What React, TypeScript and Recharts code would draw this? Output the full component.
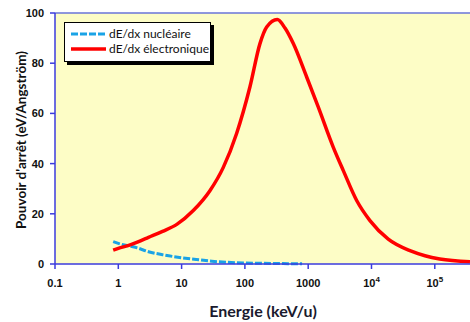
import React from "react";
import { LineChart, Line, XAxis, YAxis, CartesianGrid, ReferenceLine } from "recharts";

// energy (keV/u) -> stopping power (eV/Angstrom)
const electronique = [
  { e: 0.83, v: 5.5 }, { e: 1, v: 6.2 }, { e: 1.5, v: 7.5 }, { e: 2, v: 8.7 },
  { e: 3, v: 10.6 }, { e: 5, v: 13 }, { e: 8.4, v: 15.8 }, { e: 15.3, v: 21.3 },
  { e: 28, v: 29.2 }, { e: 45.6, v: 38.5 }, { e: 74, v: 52 }, { e: 120, v: 70.5 },
  { e: 173, v: 87.8 }, { e: 221, v: 94.4 }, { e: 325, v: 97.4 }, { e: 430, v: 94 },
  { e: 582, v: 87.8 }, { e: 946, v: 74.5 }, { e: 1445, v: 62.5 }, { e: 2494, v: 46.5 },
  { e: 3589, v: 37.2 }, { e: 5834, v: 25.3 }, { e: 9460, v: 17.3 }, { e: 18400, v: 9.9 },
  { e: 40500, v: 5.3 }, { e: 70000, v: 3.3 }, { e: 120000, v: 2.0 }, { e: 360000, v: 0.9 },
];

const nucleaire = [
  { e: 0.83, v: 8.9 }, { e: 1, v: 8.2 }, { e: 2, v: 6.4 }, { e: 3, v: 4.9 },
  { e: 5, v: 3.7 }, { e: 10, v: 2.5 }, { e: 20, v: 1.6 }, { e: 30, v: 1.1 },
  { e: 50, v: 0.7 }, { e: 100, v: 0.4 }, { e: 200, v: 0.25 }, { e: 400, v: 0.15 },
  { e: 800, v: 0.1 },
];

const xTicks = [0.1, 1, 10, 100, 1000, 10000, 100000];
const yTicks = [0, 20, 40, 60, 80, 100];

const AXIS = "#3b3bdc";
const tickFont = { fontFamily: "'Liberation Sans', Arial, sans-serif", fontWeight: 700, fontSize: 11, fill: "#111" };

const XTick = ({ x, y, payload }: any) => {
  const v = payload.value;
  if (v >= 10000) {
    const exp = Math.round(Math.log10(v));
    return (
      <text x={x} y={y + 16} textAnchor="middle" {...tickFont}>
        10<tspan dy={-5} fontSize={8}>{exp}</tspan>
      </text>
    );
  }
  return (
    <text x={x} y={y + 16} textAnchor="middle" {...tickFont}>
      {v}
    </text>
  );
};

const YTick = ({ x, y, payload }: any) => (
  <text x={x - 4} y={y + 4} textAnchor="end" {...tickFont}>
    {payload.value}
  </text>
);

export default function App() {
  const titleFont = "Lato, 'Open Sans', sans-serif";
  return (
    <div style={{ position: "absolute", left: 0, top: 0, width: 470, height: 322, background: "#fff", overflow: "hidden" }}>
      <LineChart width={470} height={322} margin={{ top: 13, right: 0, left: 0, bottom: 0 }}>
        <CartesianGrid horizontal={false} vertical={false} fill="#fdfdc6" fillOpacity={1} />
        <XAxis
          dataKey="e"
          type="number"
          scale="log"
          domain={[0.1, 360000]}
          allowDataOverflow
          ticks={xTicks}
          height={58}
          stroke={AXIS}
          strokeWidth={1.5}
          tickSize={5}
          tick={<XTick />}
        />
        <YAxis
          type="number"
          domain={[0, 100]}
          ticks={yTicks}
          width={55}
          stroke={AXIS}
          strokeWidth={1.5}
          tickSize={5}
          tick={<YTick />}
        />
        <ReferenceLine y={100} stroke="#6a74d8" strokeWidth={1.5} />
        <Line
          data={nucleaire}
          dataKey="v"
          type="monotone"
          stroke="#1aa3e6"
          strokeWidth={3}
          strokeDasharray="7 2"
          dot={false}
          isAnimationActive={false}
        />
        <Line
          data={electronique}
          dataKey="v"
          type="monotone"
          stroke="#ff0000"
          strokeWidth={3.5}
          dot={false}
          isAnimationActive={false}
        />
      </LineChart>

      {/* legend */}
      <div
        style={{
          position: "absolute", left: 64, top: 22, width: 145, height: 38,
          border: "1px solid #000", background: "#fff", boxShadow: "3px 3px 0 #000",
        }}
      >
        <svg width={145} height={38} style={{ position: "absolute", left: 0, top: 0 }}>
          <line x1={6} x2={41} y1={11} y2={11} stroke="#1aa3e6" strokeWidth={3} strokeDasharray="7 2" />
          <line x1={6} x2={41} y1={26} y2={26} stroke="#ff0000" strokeWidth={3.5} />
          <text x={44} y={15} fontFamily={titleFont} fontSize={12} fill="#111">dE/dx nucléaire</text>
          <text x={44} y={30} fontFamily={titleFont} fontSize={12} fill="#111">dE/dx électronique</text>
        </svg>
      </div>

      {/* axis titles */}
      <div
        style={{
          position: "absolute", left: 21, top: 140, transform: "translate(-50%, -50%) rotate(-90deg)",
          whiteSpace: "nowrap", fontFamily: titleFont, fontWeight: 700, fontSize: 13.5, color: "#111",
        }}
      >
        Pouvoir d'arrêt (eV/Angström)
      </div>
      <div
        style={{
          position: "absolute", left: 263, top: 310, transform: "translate(-50%, -50%)",
          whiteSpace: "nowrap", fontFamily: titleFont, fontWeight: 700, fontSize: 16, color: "#1a1a2e",
        }}
      >
        Energie (keV/u)
      </div>
    </div>
  );
}
